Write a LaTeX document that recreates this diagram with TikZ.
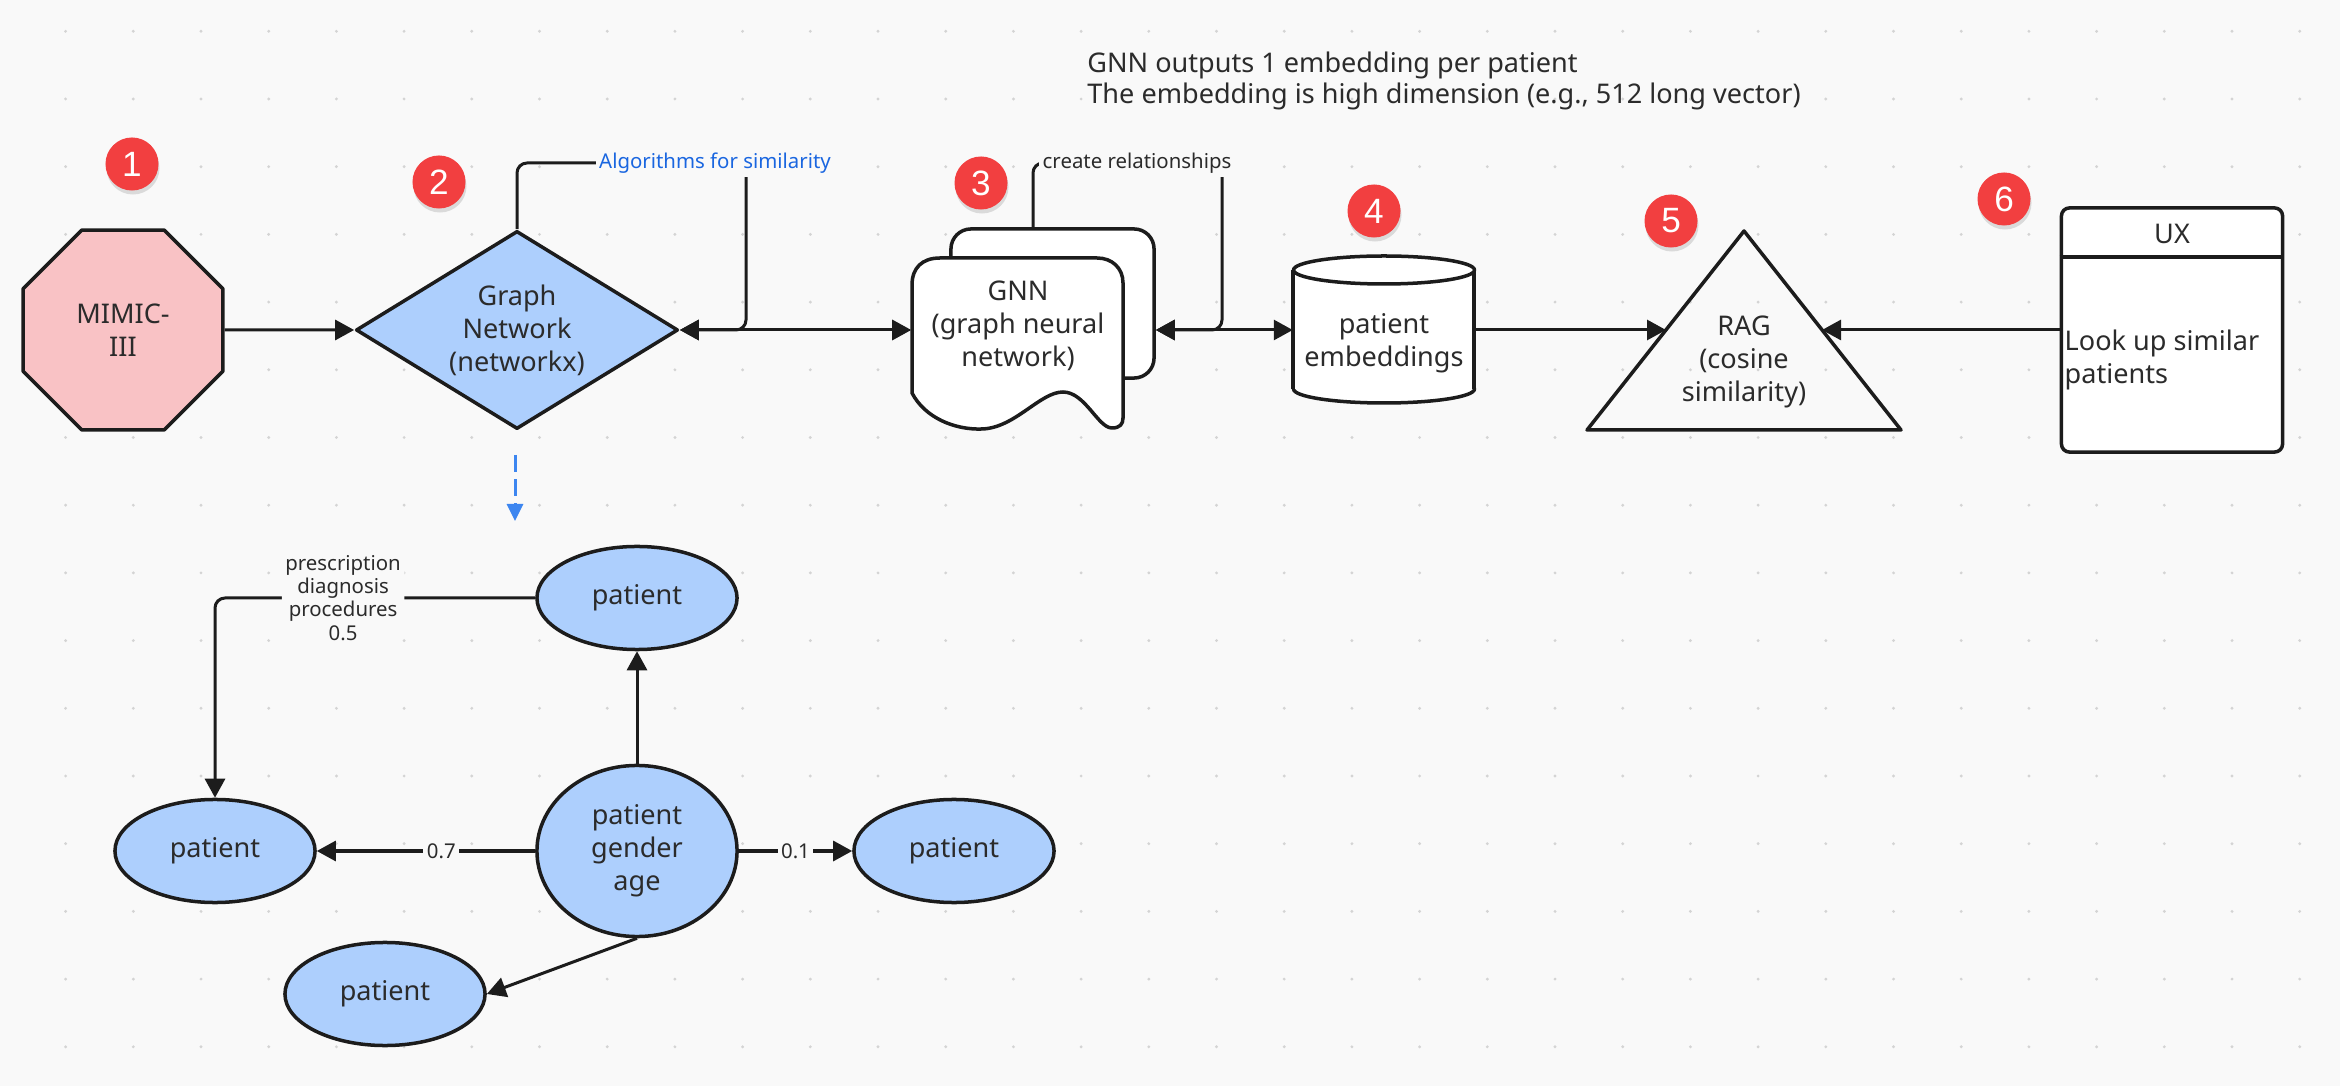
\documentclass[tikz,border=0pt]{standalone}
\usepackage{fontspec}
\setmainfont{Noto Sans}
\newfontfamily\badgefont{Liberation Sans}
\usetikzlibrary{arrows.meta,shapes.geometric,shadows}

\definecolor{canvas}{HTML}{F9F9F9}
\definecolor{griddot}{HTML}{D4D4D4}
\definecolor{ink}{HTML}{1C1C1C}
\definecolor{txt}{HTML}{2B2B2B}
\definecolor{badgered}{HTML}{F23F40}
\definecolor{pinkfill}{HTML}{F9C2C5}
\definecolor{bluefill}{HTML}{ADCFFD}
\definecolor{linkblue}{HTML}{1A66E0}
\definecolor{dashblue}{HTML}{3D86F0}

\begin{document}
\begin{tikzpicture}[x=0.01cm, y=-0.01cm,
	every node/.style={text=txt, font=\fontsize{7.7pt}{9.4pt}\selectfont},
	tip/.tip={Triangle[length=0.19cm, width=0.2cm]},
	flow/.style={draw=ink, line width=0.03cm, -tip},
	both/.style={draw=ink, line width=0.03cm, tip-tip},
	outline/.style={draw=ink, line width=0.035cm, line join=round},
	small/.style={font=\fontsize{5.8pt}{6.6pt}\selectfont, fill=canvas, inner sep=1pt, align=center},
	badge/.style={circle, fill=badgered, minimum size=0.53cm, inner sep=0pt, text=white,
		font=\badgefont\fontsize{10pt}{10pt}\selectfont,
		drop shadow={opacity=0.25, shadow xshift=0.01cm, shadow yshift=-0.04cm}},
	pat/.style={ellipse, outline, fill=bluefill, minimum width=2cm, minimum height=1.03cm, inner sep=0pt, align=center}
	]
	\useasboundingbox (0,0) rectangle (2340,1086);
	\fill[canvas] (0,0) rectangle (2340,1086);
	\foreach \i in {0,...,33}
		\foreach \j in {0,...,15}
			\fill[griddot] (65.6+67.7*\i,31.3+67.7*\j) circle (1.6);

	% top row
	\draw (123,330) node [regular polygon, regular polygon sides=8, minimum size=2.16cm, inner sep=0pt, outline, fill=pinkfill, align=center] (mimic) {MIMIC-\\III};
	\draw (517,330) node [diamond, aspect=1.6, minimum width=3.22cm, minimum height=1.98cm, inner sep=0pt, outline, fill=bluefill, align=center] (graph) {Graph\\Network\\(networkx)};
	\draw (1052.5,303.5) node [rectangle, rounded corners=0.2cm, minimum width=2.03cm, minimum height=1.49cm, outline, fill=white] (gnnback) {};
	\draw[outline, fill=white] (912,285) -- (912,393) .. controls (925,418) and (955,430) .. (982,429)
		.. controls (1015,428) and (1040,392) .. (1063,392) .. controls (1085,392) and (1098,428) .. (1112,428)
		.. controls (1120,428) and (1123,424) .. (1123,418) -- (1123,283) .. controls (1123,268) and (1112,258) .. (1097,258)
		-- (940,258) .. controls (922,258) and (912,268) .. (912,285) -- cycle;
	\draw (1018,326) node [minimum width=2.12cm, inner sep=0pt, align=center] (gnn) {GNN\\(graph neural\\network)};

	\fill[white] (1293,270) rectangle (1474,389);
	\draw[outline, fill=white] (1384,389) ellipse (90.5 and 14);
	\fill[white] (1293,270) rectangle (1474,389);
	\draw[outline] (1293,270) -- (1293,389) (1474,270) -- (1474,389);
	\draw[outline, fill=white] (1384,270) ellipse (90.5 and 14);
	\draw (1384,343) node [minimum width=1.81cm, inner sep=0pt, align=center] (emb) {patient\\embeddings};

	\draw[outline] (1744,231) -- (1901,430) -- (1587,430) -- cycle;
	\draw (1744,362) node [align=center] (rag) {RAG\\(cosine\\similarity)};
	\coordinate (ragin) at (1666,330);
	\coordinate (ragux) at (1822,330);

	\draw (2172,330) node [rectangle, rounded corners=0.08cm, minimum width=2.21cm, minimum height=2.44cm, outline, fill=white] (ux) {};
	\draw[outline] ([yshift=-0.51cm]ux.north west) -- ([yshift=-0.51cm]ux.north east);
	\draw (2172,234) node (uxhead) {UX};
	\draw (2064,360) node [anchor=west, inner sep=0pt, align=left] (uxbody) {Look up similar\\patients};

	\draw (1075,81) node [anchor=west, align=left, font=\fontsize{7.7pt}{8.6pt}\selectfont] (note) {GNN outputs 1 embedding per patient\\The embedding is high dimension (e.g., 512 long vector)};

	\draw (132,164) node [badge] (b1) {1};
	\draw (439,182) node [badge] (b2) {2};
	\draw (981,183) node [badge] (b3) {3};
	\draw (1374,211) node [badge] (b4) {4};
	\draw (1671,221) node [badge] (b5) {5};
	\draw (2004,199) node [badge] (b6) {6};

	\draw[flow] (mimic.east) -- (graph.west);
	\draw[both] (graph.east) -- (gnn.west |- graph.east);
	\draw[both] (gnnback.east |- graph.east) -- (emb.west |- graph.east);
	\draw[flow] (emb.east |- graph.east) -- (ragin);
	\draw[flow] (ux.west) -- (ragux);

	\coordinate (simturn) at (746,163);
	\draw[flow, rounded corners=0.1cm] (graph.north) |- (simturn) |- (graph.east);
	\draw (715,163) node [small, text=linkblue] (simlabel) {Algorithms for similarity};
	\coordinate (relturn) at (1222,163);
	\draw[flow, rounded corners=0.1cm] ([xshift=-0.195cm]gnnback.north) |- (relturn) |- (gnnback.east |- graph.east);
	\draw (1137,163) node [small] (rellabel) {create relationships};

	\coordinate (zoomfrom) at (515,455);
	\coordinate (zoomto) at (515,521);
	\draw[dashblue, line width=0.03cm, dash pattern=on 0.17cm off 0.07cm, -{Triangle[length=0.17cm, width=0.16cm]}] (zoomfrom) -- (zoomto);

	% patient graph
	\draw (637,598) node [pat] (ptop) {patient};
	\draw (637,851) node [pat, minimum height=1.71cm] (pmid) {patient\\gender\\age};
	\draw (215,851) node [pat] (pleft) {patient};
	\draw (954,851) node [pat] (pright) {patient};
	\draw (385,994) node [pat] (pbot) {patient};

	\draw[flow] (pmid) -- (ptop);
	\draw[flow, rounded corners=0.1cm] (ptop.west) -| node [small, pos=0.3] {prescription\\diagnosis\\procedures\\0.5} (pleft.north);
	\draw[flow] (pmid) -- node [small, pos=0.43] {0.7} (pleft);
	\draw[flow] (pmid) -- node [small] {0.1} (pright);
	\draw[flow] (pmid.south) -- (pbot.east);
\end{tikzpicture}
\end{document}
